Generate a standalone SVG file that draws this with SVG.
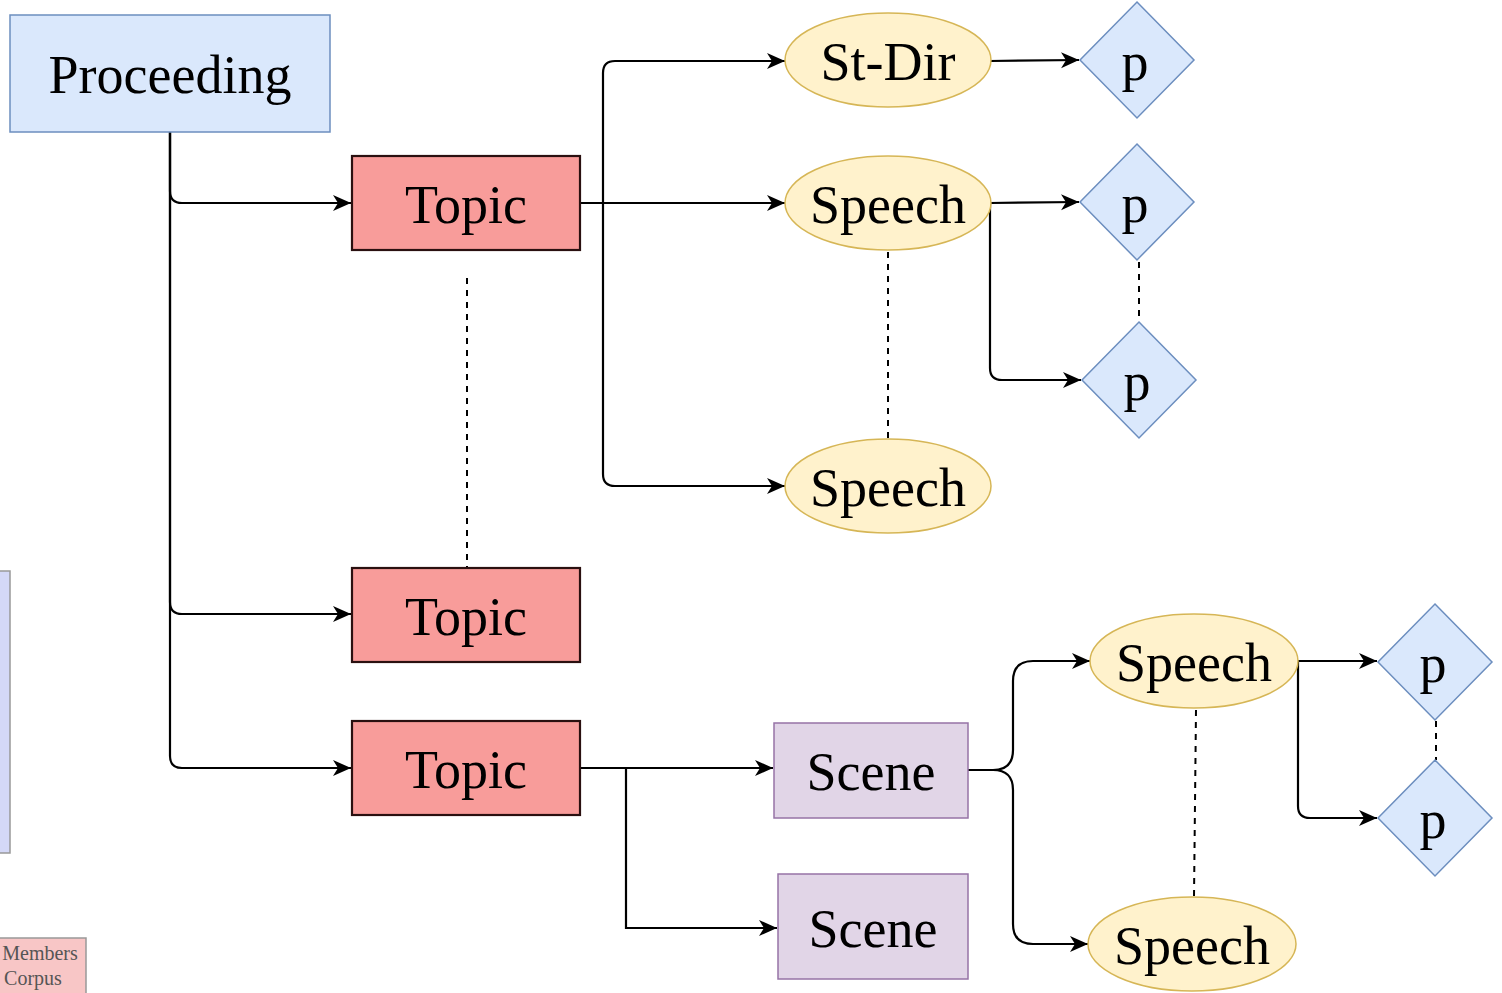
<svg xmlns="http://www.w3.org/2000/svg" width="1502" height="993" viewBox="0 0 1502 993">
<style>
.t{font-family:"Liberation Serif","Times New Roman",serif;font-size:54px;fill:#000;text-anchor:middle}
.s{font-family:"Liberation Serif","Times New Roman",serif;font-size:20px;fill:#555;text-anchor:middle}
.blue{fill:#dae8fc;stroke:#6c8ebf;stroke-width:1.5}
.topic{fill:#f89c9a;stroke:#2a1010;stroke-width:2.2}
.ell{fill:#fff2cc;stroke:#d6b656;stroke-width:1.5}
.scene{fill:#e1d5e7;stroke:#9673a6;stroke-width:1.5}
.c{fill:none;stroke:#000;stroke-width:2.2}
.arr{marker-end:url(#ah)}
.dot{fill:none;stroke:#000;stroke-width:2;stroke-dasharray:6 6}
</style>
<defs>
<marker id="ah" markerUnits="userSpaceOnUse" markerWidth="20" markerHeight="18" refX="18" refY="9" orient="auto">
<path d="M0,1 L18,9 L0,17 L5,9 Z" fill="#000"/>
</marker>
</defs>
<rect width="1502" height="993" fill="#fff"/>
<g id="side-panel"><rect x="-5" y="571" width="15" height="282" fill="#d4d8f7" stroke="#999" stroke-width="1.5"/></g>
<g id="legend-members">
<rect x="-5" y="938" width="91" height="60" fill="#f8c6c6" stroke="#999" stroke-width="1.5"/>
<text class="s" x="40" y="960">Members</text>
<text class="s" x="33" y="985">Corpus</text>
</g>
<g id="connectors">
<path class="c arr" d="M170,132 V191 Q170,203 182,203 H351"/>
<path class="c arr" d="M170,132 V602 Q170,614 182,614 H351"/>
<path class="c arr" d="M170,132 V756 Q170,768 182,768 H351"/>
<path class="c arr" d="M580,203 H603 V73 Q603,61 615,61 H785"/>
<path class="c arr" d="M580,203 H785"/>
<path class="c arr" d="M580,203 H603 V474 Q603,486 615,486 H785"/>
<path class="c arr" d="M990,61 L1079,60"/>
<path class="c arr" d="M990,203 L1079,202"/>
<path class="c arr" d="M990,203 V368 Q990,380 1002,380 H1081"/>
<path class="c arr" d="M580,768 H773"/>
<path class="c arr" d="M626,768 V928 H777"/>
<path class="c arr" d="M968,770 H993 Q1013,770 1013,750 V681 Q1013,661 1033,661 H1090"/>
<path class="c arr" d="M968,770 H993 Q1013,770 1013,790 V924 Q1013,944 1033,944 H1088"/>
<path class="c arr" d="M1298,661 H1377"/>
<path class="c arr" d="M1298,661 V806 Q1298,818 1310,818 H1377"/>
<path class="dot" d="M467,278 V568"/>
<path class="dot" d="M888,252 V440"/>
<path class="dot" d="M1139,262 V322"/>
<path class="dot" d="M1196,710 L1194,897"/>
<path class="dot" d="M1436,721 V760"/>
</g>
<g id="proceeding"><rect class="blue" x="10" y="15" width="320" height="117"/><text class="t" x="170" y="93">Proceeding</text></g>
<g id="topic1"><rect class="topic" x="352" y="156" width="228" height="94"/><text class="t" x="466" y="223">Topic</text></g>
<g id="topic2"><rect class="topic" x="352" y="568" width="228" height="94"/><text class="t" x="466" y="635">Topic</text></g>
<g id="topic3"><rect class="topic" x="352" y="721" width="228" height="94"/><text class="t" x="466" y="788">Topic</text></g>
<g id="stdir"><ellipse class="ell" cx="888" cy="60" rx="103" ry="47"/><text class="t" x="888" y="80">St-Dir</text></g>
<g id="speech1"><ellipse class="ell" cx="888" cy="203" rx="103" ry="47"/><text class="t" x="888" y="223">Speech</text></g>
<g id="speech2"><ellipse class="ell" cx="888" cy="486" rx="103" ry="47"/><text class="t" x="888" y="506">Speech</text></g>
<g id="p1"><polygon class="blue" points="1137,2 1194,60 1137,118 1080,60"/><text class="t" x="1135" y="80">p</text></g>
<g id="p2"><polygon class="blue" points="1137,144 1194,202 1137,260 1080,202"/><text class="t" x="1135" y="222">p</text></g>
<g id="p3"><polygon class="blue" points="1139,322 1196,380 1139,438 1082,380"/><text class="t" x="1137" y="400">p</text></g>
<g id="scene1"><rect class="scene" x="774" y="723" width="194" height="95"/><text class="t" x="871" y="790">Scene</text></g>
<g id="scene2"><rect class="scene" x="778" y="874" width="190" height="105"/><text class="t" x="873" y="947">Scene</text></g>
<g id="speech3"><ellipse class="ell" cx="1194" cy="661" rx="104" ry="47"/><text class="t" x="1194" y="681">Speech</text></g>
<g id="speech4"><ellipse class="ell" cx="1192" cy="944" rx="104" ry="47"/><text class="t" x="1192" y="964">Speech</text></g>
<g id="p4"><polygon class="blue" points="1435,604 1492,662 1435,720 1378,662"/><text class="t" x="1433" y="682">p</text></g>
<g id="p5"><polygon class="blue" points="1435,760 1492,818 1435,876 1378,818"/><text class="t" x="1433" y="838">p</text></g>
</svg>
